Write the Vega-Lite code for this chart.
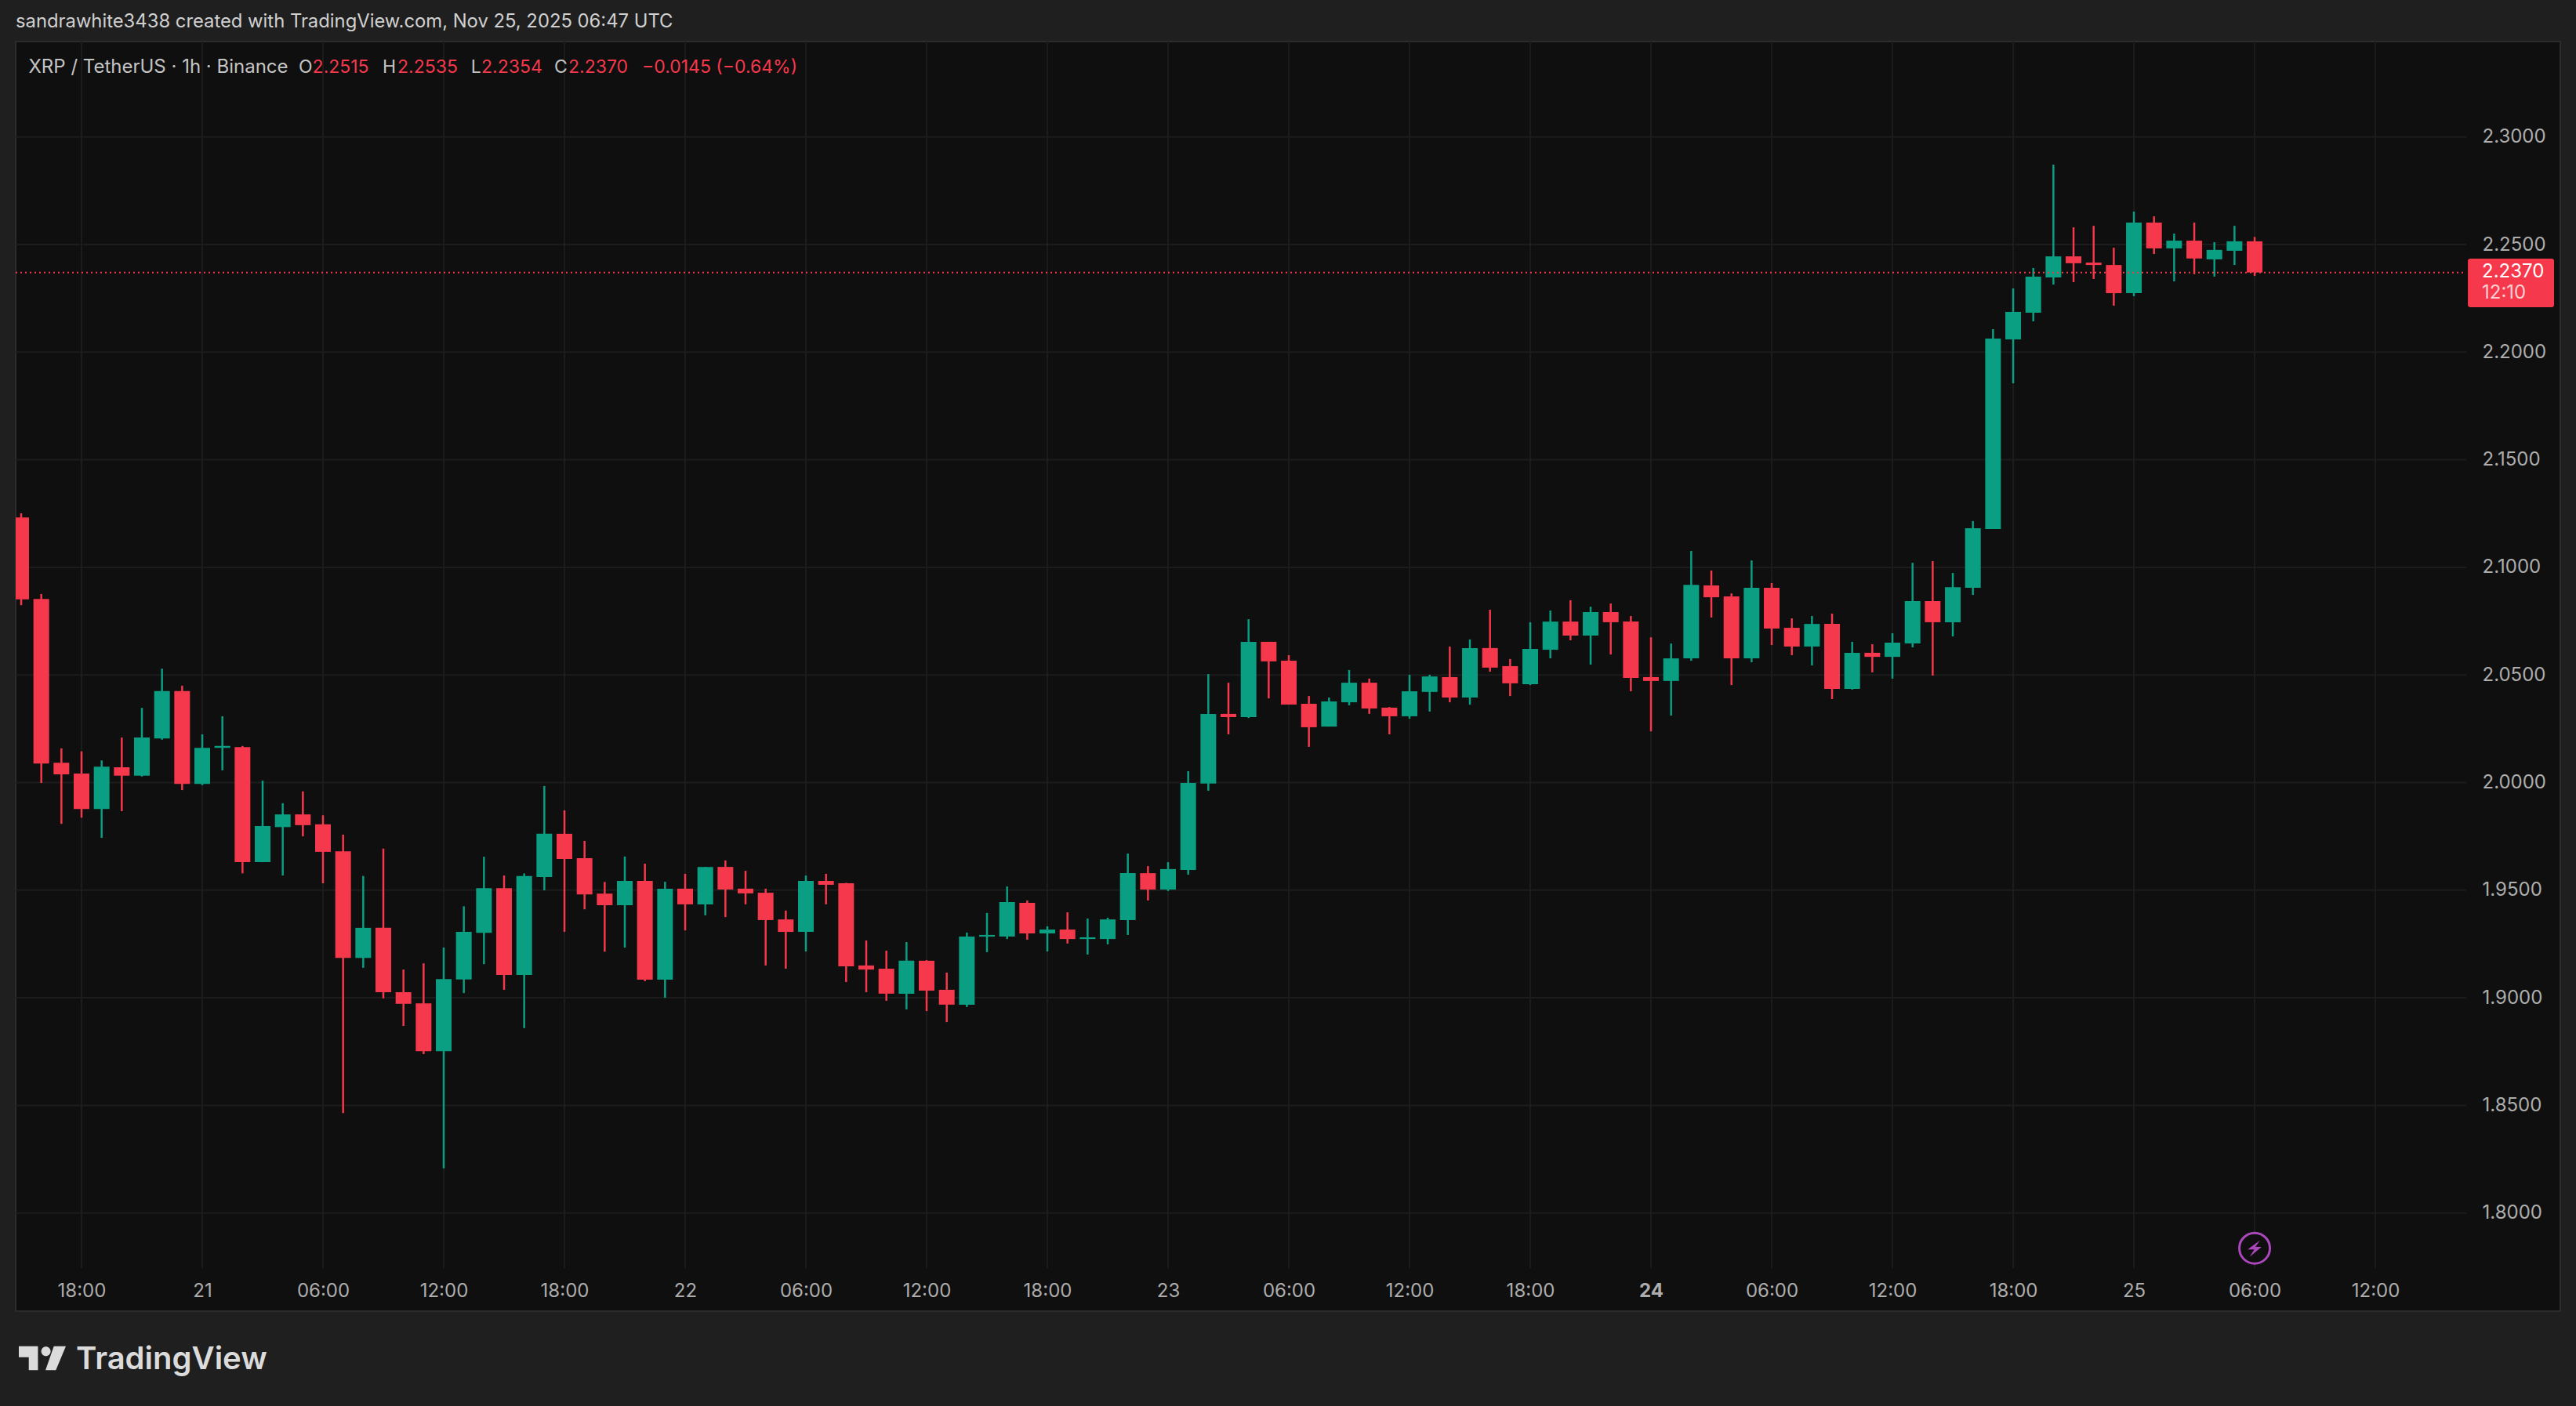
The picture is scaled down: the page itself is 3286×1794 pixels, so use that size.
{"$schema":"https://vega.github.io/schema/vega-lite/v6.json","width":3246,"height":1620,"autosize":{"type":"none"},"padding":{"left":20,"top":53,"right":20,"bottom":121},"background":"#1f1f1f","view":{"fill":"#0f0f0f","stroke":"#2c2c2c","strokeWidth":2},"config":{"font":"Inter","axis":{"grid":false,"domain":false,"ticks":false}},"title":{"text":"sandrawhite3438 created with TradingView.com, Nov 25, 2025 06:47 UTC","anchor":"start","frame":"group","offset":12,"fontSize":23.8,"font":"Inter","fontWeight":400,"color":"#d0d0d0"},"datasets":{"candles":[
{"t":"2025-11-20T15:00:00Z","o":2.1232,"h":2.1251,"l":2.0824,"c":2.0851},
{"t":"2025-11-20T16:00:00Z","o":2.0853,"h":2.0876,"l":1.9998,"c":2.0088},
{"t":"2025-11-20T17:00:00Z","o":2.0092,"h":2.0159,"l":1.9808,"c":2.0038},
{"t":"2025-11-20T18:00:00Z","o":2.0042,"h":2.0145,"l":1.9837,"c":1.9877},
{"t":"2025-11-20T19:00:00Z","o":1.9877,"h":2.0103,"l":1.9743,"c":2.0074},
{"t":"2025-11-20T20:00:00Z","o":2.0071,"h":2.0209,"l":1.9867,"c":2.0032},
{"t":"2025-11-20T21:00:00Z","o":2.0032,"h":2.0347,"l":2.0028,"c":2.0209},
{"t":"2025-11-20T22:00:00Z","o":2.0205,"h":2.0529,"l":2.0199,"c":2.0425},
{"t":"2025-11-20T23:00:00Z","o":2.0425,"h":2.0450,"l":1.9965,"c":1.9994},
{"t":"2025-11-21T00:00:00Z","o":1.9994,"h":2.0224,"l":1.9988,"c":2.0161},
{"t":"2025-11-21T01:00:00Z","o":2.0161,"h":2.0308,"l":2.0057,"c":2.0170},
{"t":"2025-11-21T02:00:00Z","o":2.0165,"h":2.0170,"l":1.9578,"c":1.9630},
{"t":"2025-11-21T03:00:00Z","o":1.9630,"h":2.0009,"l":1.9630,"c":1.9798},
{"t":"2025-11-21T04:00:00Z","o":1.9793,"h":1.9904,"l":1.9568,"c":1.9852},
{"t":"2025-11-21T05:00:00Z","o":1.9852,"h":1.9959,"l":1.9750,"c":1.9802},
{"t":"2025-11-21T06:00:00Z","o":1.9806,"h":1.9848,"l":1.9532,"c":1.9678},
{"t":"2025-11-21T07:00:00Z","o":1.9680,"h":1.9758,"l":1.8464,"c":1.9185},
{"t":"2025-11-21T08:00:00Z","o":1.9185,"h":1.9566,"l":1.9139,"c":1.9325},
{"t":"2025-11-21T09:00:00Z","o":1.9325,"h":1.9693,"l":1.8997,"c":1.9026},
{"t":"2025-11-21T10:00:00Z","o":1.9026,"h":1.9131,"l":1.8869,"c":1.8972},
{"t":"2025-11-21T11:00:00Z","o":1.8974,"h":1.9160,"l":1.8738,"c":1.8752},
{"t":"2025-11-21T12:00:00Z","o":1.8752,"h":1.9233,"l":1.8207,"c":1.9087},
{"t":"2025-11-21T13:00:00Z","o":1.9085,"h":1.9425,"l":1.9022,"c":1.9306},
{"t":"2025-11-21T14:00:00Z","o":1.9302,"h":1.9655,"l":1.9156,"c":1.9509},
{"t":"2025-11-21T15:00:00Z","o":1.9509,"h":1.9568,"l":1.9037,"c":1.9106},
{"t":"2025-11-21T16:00:00Z","o":1.9106,"h":1.9578,"l":1.8859,"c":1.9566},
{"t":"2025-11-21T17:00:00Z","o":1.9561,"h":1.9984,"l":1.9499,"c":1.9762},
{"t":"2025-11-21T18:00:00Z","o":1.9762,"h":1.9871,"l":1.9306,"c":1.9645},
{"t":"2025-11-21T19:00:00Z","o":1.9649,"h":1.9729,"l":1.9411,"c":1.9480},
{"t":"2025-11-21T20:00:00Z","o":1.9484,"h":1.9538,"l":1.9214,"c":1.9430},
{"t":"2025-11-21T21:00:00Z","o":1.9430,"h":1.9656,"l":1.9233,"c":1.9543},
{"t":"2025-11-21T22:00:00Z","o":1.9543,"h":1.9623,"l":1.9077,"c":1.9084},
{"t":"2025-11-21T23:00:00Z","o":1.9084,"h":1.9539,"l":1.9000,"c":1.9507},
{"t":"2025-11-22T00:00:00Z","o":1.9507,"h":1.9576,"l":1.9313,"c":1.9434},
{"t":"2025-11-22T01:00:00Z","o":1.9434,"h":1.9608,"l":1.9383,"c":1.9608},
{"t":"2025-11-22T02:00:00Z","o":1.9608,"h":1.9638,"l":1.9375,"c":1.9503},
{"t":"2025-11-22T03:00:00Z","o":1.9507,"h":1.9590,"l":1.9434,"c":1.9485},
{"t":"2025-11-22T04:00:00Z","o":1.9488,"h":1.9507,"l":1.9150,"c":1.9361},
{"t":"2025-11-22T05:00:00Z","o":1.9364,"h":1.9405,"l":1.9135,"c":1.9306},
{"t":"2025-11-22T06:00:00Z","o":1.9306,"h":1.9568,"l":1.9215,"c":1.9543},
{"t":"2025-11-22T07:00:00Z","o":1.9543,"h":1.9576,"l":1.9434,"c":1.9525},
{"t":"2025-11-22T08:00:00Z","o":1.9532,"h":1.9534,"l":1.9073,"c":1.9146},
{"t":"2025-11-22T09:00:00Z","o":1.9150,"h":1.9266,"l":1.9026,"c":1.9131},
{"t":"2025-11-22T10:00:00Z","o":1.9135,"h":1.9219,"l":1.8986,"c":1.9019},
{"t":"2025-11-22T11:00:00Z","o":1.9019,"h":1.9259,"l":1.8946,"c":1.9172},
{"t":"2025-11-22T12:00:00Z","o":1.9172,"h":1.9175,"l":1.8938,"c":1.9033},
{"t":"2025-11-22T13:00:00Z","o":1.9037,"h":1.9117,"l":1.8887,"c":1.8968},
{"t":"2025-11-22T14:00:00Z","o":1.8968,"h":1.9303,"l":1.8957,"c":1.9284},
{"t":"2025-11-22T15:00:00Z","o":1.9284,"h":1.9394,"l":1.9212,"c":1.9292},
{"t":"2025-11-22T16:00:00Z","o":1.9284,"h":1.9517,"l":1.9273,"c":1.9445},
{"t":"2025-11-22T17:00:00Z","o":1.9441,"h":1.9452,"l":1.9270,"c":1.9299},
{"t":"2025-11-22T18:00:00Z","o":1.9299,"h":1.9332,"l":1.9215,"c":1.9317},
{"t":"2025-11-22T19:00:00Z","o":1.9317,"h":1.9397,"l":1.9252,"c":1.9273},
{"t":"2025-11-22T20:00:00Z","o":1.9273,"h":1.9368,"l":1.9201,"c":1.9281},
{"t":"2025-11-22T21:00:00Z","o":1.9273,"h":1.9372,"l":1.9248,"c":1.9364},
{"t":"2025-11-22T22:00:00Z","o":1.9361,"h":1.9670,"l":1.9292,"c":1.9579},
{"t":"2025-11-22T23:00:00Z","o":1.9579,"h":1.9612,"l":1.9452,"c":1.9503},
{"t":"2025-11-23T00:00:00Z","o":1.9503,"h":1.9630,"l":1.9496,"c":1.9598},
{"t":"2025-11-23T01:00:00Z","o":1.9594,"h":2.0053,"l":1.9572,"c":1.9998},
{"t":"2025-11-23T02:00:00Z","o":1.9995,"h":2.0504,"l":1.9962,"c":2.0319},
{"t":"2025-11-23T03:00:00Z","o":2.0319,"h":2.0464,"l":2.0224,"c":2.0304},
{"t":"2025-11-23T04:00:00Z","o":2.0304,"h":2.0759,"l":2.0300,"c":2.0654},
{"t":"2025-11-23T05:00:00Z","o":2.0654,"h":2.0654,"l":2.0391,"c":2.0563},
{"t":"2025-11-23T06:00:00Z","o":2.0566,"h":2.0592,"l":2.0362,"c":2.0362},
{"t":"2025-11-23T07:00:00Z","o":2.0366,"h":2.0402,"l":2.0166,"c":2.0257},
{"t":"2025-11-23T08:00:00Z","o":2.0260,"h":2.0395,"l":2.0260,"c":2.0377},
{"t":"2025-11-23T09:00:00Z","o":2.0373,"h":2.0523,"l":2.0359,"c":2.0464},
{"t":"2025-11-23T10:00:00Z","o":2.0464,"h":2.0483,"l":2.0319,"c":2.0344},
{"t":"2025-11-23T11:00:00Z","o":2.0348,"h":2.0351,"l":2.0224,"c":2.0308},
{"t":"2025-11-23T12:00:00Z","o":2.0308,"h":2.0501,"l":2.0297,"c":2.0424},
{"t":"2025-11-23T13:00:00Z","o":2.0421,"h":2.0501,"l":2.0330,"c":2.0493},
{"t":"2025-11-23T14:00:00Z","o":2.0490,"h":2.0632,"l":2.0373,"c":2.0395},
{"t":"2025-11-23T15:00:00Z","o":2.0395,"h":2.0665,"l":2.0362,"c":2.0625},
{"t":"2025-11-23T16:00:00Z","o":2.0625,"h":2.0803,"l":2.0515,"c":2.0534},
{"t":"2025-11-23T17:00:00Z","o":2.0541,"h":2.0574,"l":2.0402,"c":2.0461},
{"t":"2025-11-23T18:00:00Z","o":2.0457,"h":2.0745,"l":2.0453,"c":2.0621},
{"t":"2025-11-23T19:00:00Z","o":2.0617,"h":2.0799,"l":2.0577,"c":2.0748},
{"t":"2025-11-23T20:00:00Z","o":2.0748,"h":2.0847,"l":2.0661,"c":2.0683},
{"t":"2025-11-23T21:00:00Z","o":2.0683,"h":2.0817,"l":2.0548,"c":2.0792},
{"t":"2025-11-23T22:00:00Z","o":2.0792,"h":2.0832,"l":2.0595,"c":2.0745},
{"t":"2025-11-23T23:00:00Z","o":2.0748,"h":2.0774,"l":2.0424,"c":2.0486},
{"t":"2025-11-24T00:00:00Z","o":2.0490,"h":2.0675,"l":2.0238,"c":2.0472},
{"t":"2025-11-24T01:00:00Z","o":2.0472,"h":2.0646,"l":2.0311,"c":2.0577},
{"t":"2025-11-24T02:00:00Z","o":2.0577,"h":2.1076,"l":2.0566,"c":2.0919},
{"t":"2025-11-24T03:00:00Z","o":2.0916,"h":2.0985,"l":2.0767,"c":2.0861},
{"t":"2025-11-24T04:00:00Z","o":2.0865,"h":2.0879,"l":2.0453,"c":2.0577},
{"t":"2025-11-24T05:00:00Z","o":2.0577,"h":2.1032,"l":2.0559,"c":2.0905},
{"t":"2025-11-24T06:00:00Z","o":2.0905,"h":2.0927,"l":2.0639,"c":2.0716},
{"t":"2025-11-24T07:00:00Z","o":2.0719,"h":2.0763,"l":2.0592,"c":2.0632},
{"t":"2025-11-24T08:00:00Z","o":2.0632,"h":2.0774,"l":2.0544,"c":2.0737},
{"t":"2025-11-24T09:00:00Z","o":2.0737,"h":2.0785,"l":2.0388,"c":2.0435},
{"t":"2025-11-24T10:00:00Z","o":2.0435,"h":2.0654,"l":2.0432,"c":2.0603},
{"t":"2025-11-24T11:00:00Z","o":2.0603,"h":2.0643,"l":2.0512,"c":2.0584},
{"t":"2025-11-24T12:00:00Z","o":2.0584,"h":2.0694,"l":2.0483,"c":2.0650},
{"t":"2025-11-24T13:00:00Z","o":2.0646,"h":2.1021,"l":2.0628,"c":2.0843},
{"t":"2025-11-24T14:00:00Z","o":2.0843,"h":2.1029,"l":2.0497,"c":2.0745},
{"t":"2025-11-24T15:00:00Z","o":2.0745,"h":2.0974,"l":2.0679,"c":2.0908},
{"t":"2025-11-24T16:00:00Z","o":2.0905,"h":2.1215,"l":2.0872,"c":2.1182},
{"t":"2025-11-24T17:00:00Z","o":2.1178,"h":2.2107,"l":2.1178,"c":2.2063},
{"t":"2025-11-24T18:00:00Z","o":2.2059,"h":2.2296,"l":2.1855,"c":2.2187},
{"t":"2025-11-24T19:00:00Z","o":2.2183,"h":2.2391,"l":2.2143,"c":2.2351},
{"t":"2025-11-24T20:00:00Z","o":2.2347,"h":2.2871,"l":2.2314,"c":2.2445},
{"t":"2025-11-24T21:00:00Z","o":2.2445,"h":2.2580,"l":2.2325,"c":2.2413},
{"t":"2025-11-24T22:00:00Z","o":2.2416,"h":2.2587,"l":2.2340,"c":2.2405},
{"t":"2025-11-24T23:00:00Z","o":2.2405,"h":2.2485,"l":2.2216,"c":2.2274},
{"t":"2025-11-25T00:00:00Z","o":2.2274,"h":2.2653,"l":2.2260,"c":2.2602},
{"t":"2025-11-25T01:00:00Z","o":2.2602,"h":2.2631,"l":2.2456,"c":2.2482},
{"t":"2025-11-25T02:00:00Z","o":2.2482,"h":2.2551,"l":2.2329,"c":2.2518},
{"t":"2025-11-25T03:00:00Z","o":2.2518,"h":2.2602,"l":2.2362,"c":2.2435},
{"t":"2025-11-25T04:00:00Z","o":2.2431,"h":2.2511,"l":2.2351,"c":2.2475},
{"t":"2025-11-25T05:00:00Z","o":2.2471,"h":2.2587,"l":2.2405,"c":2.2515},
{"t":"2025-11-25T06:00:00Z","o":2.2515,"h":2.2535,"l":2.2354,"c":2.2370}
]},"layer":[
{"data":{"values":[{"t":1763661600000},{"t":1763683200000},{"t":1763704800000},{"t":1763726400000},{"t":1763748000000},{"t":1763769600000},{"t":1763791200000},{"t":1763812800000},{"t":1763834400000},{"t":1763856000000},{"t":1763877600000},{"t":1763899200000},{"t":1763920800000},{"t":1763942400000},{"t":1763964000000},{"t":1763985600000},{"t":1764007200000},{"t":1764028800000},{"t":1764050400000},{"t":1764072000000}]},"mark":{"type":"rule","color":"#1c1c1c","strokeWidth":2},"encoding":{"x":{"field":"t","type":"temporal","title":null,"scale":{"type":"utc","domain":[1763649818182,1764105094800],"nice":false,"padding":0},"axis":{"orient":"bottom","offset":-55,"values":[1763661600000,1763683200000,1763704800000,1763726400000,1763748000000,1763769600000,1763791200000,1763812800000,1763834400000,1763856000000,1763877600000,1763899200000,1763920800000,1763942400000,1763964000000,1763985600000,1764007200000,1764028800000,1764050400000,1764072000000],"labelExpr":"utchours(datum.value)==0 ? utcFormat(datum.value,'%-d') : utcFormat(datum.value,'%H:%M')","domain":false,"ticks":false,"grid":false,"labelPadding":17,"labelFont":"Inter","labelFontSize":24,"labelColor":"#adadad","labelOverlap":false,"labelBound":false,"labelFlush":false,"labelFontWeight":{"condition":{"test":"utcdate(datum.value)==24 && utchours(datum.value)==0","value":700},"value":400}}},"y":{"datum":1.77441,"type":"quantitative","title":null,"scale":{"domain":[1.75437,2.34432],"nice":false,"zero":false}},"y2":{"datum":2.34432}}},
{"data":{"values":[{"p":1.8},{"p":1.85},{"p":1.9},{"p":1.95},{"p":2.0},{"p":2.05},{"p":2.1},{"p":2.15},{"p":2.2},{"p":2.25},{"p":2.3}]},"mark":{"type":"rule","color":"#1c1c1c","strokeWidth":2},"encoding":{"y":{"field":"p","type":"quantitative","title":null,"axis":{"orient":"right","offset":-120,"values":[1.8,1.85,1.9,1.95,2.0,2.05,2.1,2.15,2.2,2.25,2.3],"format":".4f","domain":false,"ticks":false,"grid":false,"labelPadding":20,"labelFont":"Inter","labelFontSize":24,"labelColor":"#adadad","labelOverlap":false,"labelBound":false,"labelFlush":false}},"x":{"datum":1763649818182,"type":"temporal","title":null},"x2":{"datum":1764088270007}}},
{"data":{"name":"candles"},"mark":{"type":"rule","strokeWidth":2.5,"clip":true},"encoding":{"x":{"field":"t","type":"temporal","title":null},"y":{"field":"l","type":"quantitative","title":null},"y2":{"field":"h"},"color":{"condition":{"test":"datum.c>=datum.o","value":"#0a9e82"},"value":"#f5384b"}}},
{"data":{"name":"candles"},"mark":{"type":"bar","size":20,"clip":true},"encoding":{"x":{"field":"t","type":"temporal","title":null},"y":{"field":"o","type":"quantitative","title":null},"y2":{"field":"c"},"color":{"condition":{"test":"datum.c>=datum.o","value":"#0a9e82"},"value":"#f5384b"}}},
{"data":{"values":[{}]},"layer":[
{"mark":{"type":"rule","color":"#f5384b","strokeWidth":2,"strokeDash":[2,4]},"encoding":{"y":{"datum":2.237,"type":"quantitative","title":null},"x":{"datum":1763649818182,"type":"temporal","title":null},"x2":{"datum":1764088270007}}},
{"mark":{"type":"rect","color":"#f5384b","cornerRadius":3},"encoding":{"x":{"datum":1764088550527,"type":"temporal","title":null},"x2":{"datum":1764103979094},"y":{"datum":2.24344,"type":"quantitative","title":null},"y2":{"datum":2.22087}}},
{"mark":{"type":"text","text":"2.2370","align":"left","baseline":"middle","fontSize":24,"font":"Inter","color":"#ffffff"},"encoding":{"x":{"datum":1764091075201,"type":"temporal","title":null},"y":{"datum":2.23736,"type":"quantitative","title":null}}},
{"mark":{"type":"text","text":"12:10","align":"left","baseline":"middle","fontSize":24,"font":"Inter","color":"#ffffff","opacity":0.75},"encoding":{"x":{"datum":1764091075201,"type":"temporal","title":null},"y":{"datum":2.22742,"type":"quantitative","title":null}}},
{"mark":{"type":"text","text":"XRP / TetherUS · 1h · Binance","align":"left","baseline":"middle","fontSize":24,"font":"Inter","color":"#c4c4c4"},"encoding":{"x":{"datum":1763652132468,"type":"temporal","title":null},"y":{"datum":2.3323,"type":"quantitative","title":null}}},
{"mark":{"type":"text","text":"O","align":"left","baseline":"middle","fontSize":23,"font":"Inter","color":"#c4c4c4"},"encoding":{"x":{"datum":1763700451948,"type":"temporal","title":null},"y":{"datum":2.3323,"type":"quantitative","title":null}}},
{"mark":{"type":"text","text":"2.2515","align":"left","baseline":"middle","fontSize":23,"font":"Inter","color":"#f5384b"},"encoding":{"x":{"datum":1763702920508,"type":"temporal","title":null},"y":{"datum":2.3323,"type":"quantitative","title":null}}},
{"mark":{"type":"text","text":"H","align":"left","baseline":"middle","fontSize":23,"font":"Inter","color":"#c4c4c4"},"encoding":{"x":{"datum":1763715459725,"type":"temporal","title":null},"y":{"datum":2.3323,"type":"quantitative","title":null}}},
{"mark":{"type":"text","text":"2.2535","align":"left","baseline":"middle","fontSize":23,"font":"Inter","color":"#f5384b"},"encoding":{"x":{"datum":1763718124659,"type":"temporal","title":null},"y":{"datum":2.3323,"type":"quantitative","title":null}}},
{"mark":{"type":"text","text":"L","align":"left","baseline":"middle","fontSize":23,"font":"Inter","color":"#c4c4c4"},"encoding":{"x":{"datum":1763731266993,"type":"temporal","title":null},"y":{"datum":2.3323,"type":"quantitative","title":null}}},
{"mark":{"type":"text","text":"2.2354","align":"left","baseline":"middle","fontSize":23,"font":"Inter","color":"#f5384b"},"encoding":{"x":{"datum":1763733132447,"type":"temporal","title":null},"y":{"datum":2.3323,"type":"quantitative","title":null}}},
{"mark":{"type":"text","text":"C","align":"left","baseline":"middle","fontSize":23,"font":"Inter","color":"#c4c4c4"},"encoding":{"x":{"datum":1763746176599,"type":"temporal","title":null},"y":{"datum":2.3323,"type":"quantitative","title":null}}},
{"mark":{"type":"text","text":"2.2370","align":"left","baseline":"middle","fontSize":23,"font":"Inter","color":"#f5384b"},"encoding":{"x":{"datum":1763748701274,"type":"temporal","title":null},"y":{"datum":2.3323,"type":"quantitative","title":null}}},
{"mark":{"type":"text","text":"−0.0145 (−0.64%)","align":"left","baseline":"middle","fontSize":23,"font":"Inter","color":"#f5384b"},"encoding":{"x":{"datum":1763761885686,"type":"temporal","title":null},"y":{"datum":2.3323,"type":"quantitative","title":null}}},
{"mark":{"type":"point","shape":"circle","size":1521,"filled":true,"fill":"#0f0f0f","stroke":"#ab47bc","strokeWidth":3,"opacity":1},"encoding":{"x":{"datum":1764050400000,"type":"temporal","title":null},"y":{"datum":1.78362,"type":"quantitative","title":null}}},
{"mark":{"type":"point","shape":"M.64,-.95L-.85,.16H-.04L-.6,1.05L.85,-.16H.1Z","size":441,"filled":true,"color":"#ab47bc","strokeWidth":0,"opacity":1},"encoding":{"x":{"datum":1764050400000,"type":"temporal","title":null},"y":{"datum":1.78362,"type":"quantitative","title":null}}},
{"mark":{"type":"point","shape":"M-1,-.51H-.186V.51H-.576V-.044H-1Z M.153,-.49A.2,.2 0 1 1 .153,-.09A.2,.2 0 1 1 .153,-.49Z M.49,-.51H1L.576,.51H.136Z","size":3600,"filled":true,"color":"#dbdbdb","strokeWidth":0,"opacity":1},"encoding":{"x":{"datum":1763654587015,"type":"temporal","title":null},"y":{"datum":1.73252,"type":"quantitative","title":null}}},
{"mark":{"type":"text","text":"TradingView","align":"left","baseline":"alphabetic","fontSize":40,"font":"Inter","fontWeight":600,"color":"#dbdbdb"},"encoding":{"x":{"datum":1763660618182,"type":"temporal","title":null},"y":{"datum":1.72742,"type":"quantitative","title":null}}}
]}
]}
